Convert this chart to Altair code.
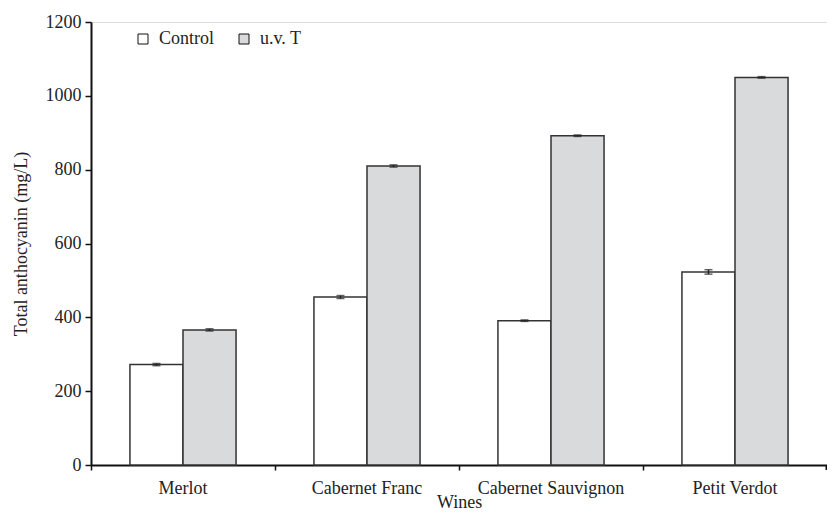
import altair as alt
import pandas as pd

wines = ["Merlot", "Cabernet Franc", "Cabernet Sauvignon", "Petit Verdot"]
treatments = ["Control", "u.v. T"]
control = [272, 455, 391, 523]
uv = [366, 810, 892, 1050]
control_err = [3, 4, 2, 6]
uv_err = [3, 3, 2, 2]

rows = []
for i, w in enumerate(wines):
    rows.append({"wine": w, "treat": "Control", "value": control[i], "err": control_err[i]})
    rows.append({"wine": w, "treat": "u.v. T", "value": uv[i], "err": uv_err[i]})
df = pd.DataFrame(rows)
df["lo"] = df["value"] - df["err"]
df["hi"] = df["value"] + df["err"]

FONT = "Liberation Serif"
FS = 18
W, H = 736, 443

x = alt.X("wine:N", sort=wines,
          scale=alt.Scale(paddingInner=0, paddingOuter=0),
          axis=alt.Axis(title="Wines", bandPosition=0,
                        labelAngle=0, labelFontSize=FS, labelFont=FONT, labelColor="#222",
                        labelPadding=9,
                        titleFont=FONT, titleFontSize=FS, titleFontWeight="normal",
                        titleColor="#222", titleY=42, titleBaseline="alphabetic",
                        domainColor="#111", domainWidth=2, tickColor="#111",
                        tickSize=5, tickWidth=1.5, grid=False))
xo = alt.XOffset("treat:N", sort=treatments,
                 scale=alt.Scale(paddingInner=0, paddingOuter=0.734))

bars = alt.Chart(df).mark_bar(stroke="#333", strokeWidth=1.5).encode(
    x=x,
    xOffset=xo,
    y=alt.Y("value:Q", scale=alt.Scale(domain=[0, 1200]),
            axis=alt.Axis(title="Total anthocyanin (mg/L)", values=list(range(0, 1201, 200)),
                          format="d",
                          labelFontSize=FS, labelFont=FONT, labelColor="#222",
                          labelPadding=4,
                          titleFont=FONT, titleFontSize=FS, titleFontWeight="normal",
                          titleColor="#222", titlePadding=15,
                          domainColor="#111", domainWidth=2, tickColor="#111",
                          tickSize=6, tickWidth=1.5, grid=False)),
    fill=alt.Fill("treat:N", sort=treatments,
                  scale=alt.Scale(domain=treatments, range=["#ffffff", "#d9dadc"]),
                  legend=alt.Legend(title=None, orient="none", legendX=43, legendY=8,
                                    direction="horizontal", symbolType="square",
                                    symbolSize=100, symbolStrokeColor="#111",
                                    symbolStrokeWidth=1, labelFont=FONT,
                                    labelFontSize=FS, labelColor="#222",
                                    columnPadding=20, labelOffset=7)),
)

err = alt.Chart(df).mark_rule(color="#222", strokeWidth=1.5).encode(
    x=alt.X("wine:N", sort=wines), xOffset=alt.XOffset("treat:N", sort=treatments),
    y="lo:Q", y2="hi:Q")
cap_lo = alt.Chart(df).mark_tick(color="#222", size=8, thickness=1.5).encode(
    x=alt.X("wine:N", sort=wines), xOffset=alt.XOffset("treat:N", sort=treatments),
    y="lo:Q")
cap_hi = alt.Chart(df).mark_tick(color="#222", size=8, thickness=1.5).encode(
    x=alt.X("wine:N", sort=wines), xOffset=alt.XOffset("treat:N", sort=treatments),
    y="hi:Q")

last_tick = alt.Chart(pd.DataFrame({"a": [0]})).mark_rule(color="#111", strokeWidth=1.5).encode(
    x=alt.value(W - 0.75), y=alt.value(H), y2=alt.value(H + 5))

chart = alt.layer(bars, err, cap_lo, cap_hi, last_tick).properties(
    width=W, height=H,
    autosize=alt.AutoSizeParams(type="none"),
    padding={"left": 83, "top": 14, "right": 0, "bottom": 46},
).configure_view(stroke=None).configure(background="white")

chart.save("out.html", embed_options={"renderer": "svg", "actions": False})
